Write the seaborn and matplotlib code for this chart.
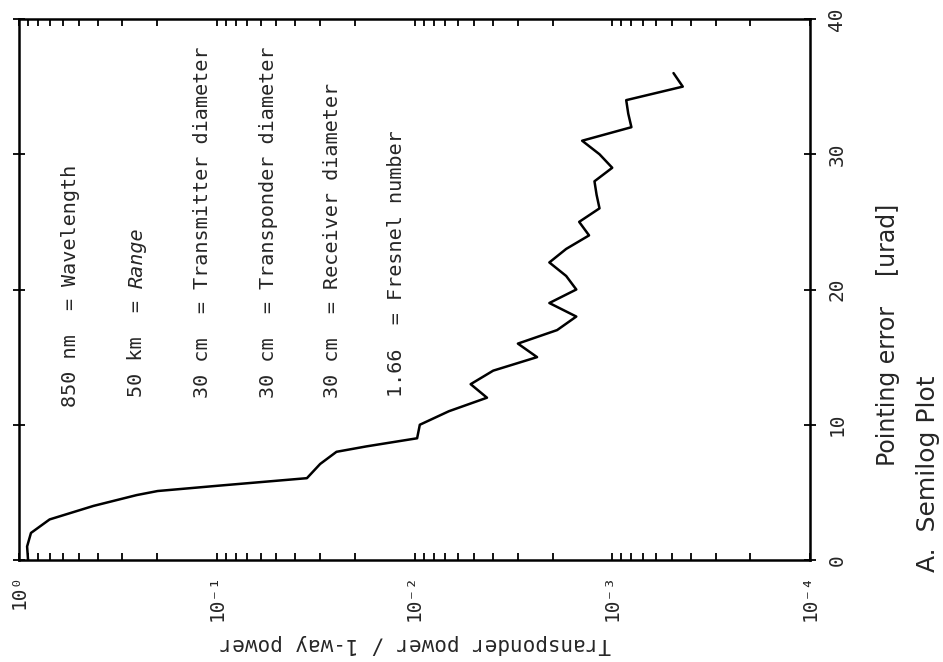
import numpy as np
import pandas as pd
import matplotlib
matplotlib.use("Agg")
import matplotlib.pyplot as plt
import seaborn as sns
from matplotlib.ticker import FixedLocator, LogLocator, NullFormatter

# ---- data ----
pointing_error_urad = [0, 1, 2, 3, 4, 4.8, 5.1, 5.5, 6.05, 7.1, 8.0, 8.4, 9.0, 10,
                       11, 12, 13, 14, 15, 16, 17, 18, 19, 20, 21, 22, 23, 24, 25,
                       26, 27, 28, 29, 30, 31, 32, 33, 34, 35, 36]
transponder_power = [0.90, 0.91, 0.87, 0.70, 0.42, 0.254, 0.199, 0.097, 0.035, 0.030,
                     0.0248, 0.0175, 0.0097, 0.0094, 0.0067, 0.0043, 0.0052, 0.0040,
                     0.0024, 0.0030, 0.0019, 0.00152, 0.00208, 0.00152, 0.00171,
                     0.00208, 0.00171, 0.00131, 0.00147, 0.00116, 0.00120, 0.00123,
                     0.00100, 0.00116, 0.00142, 0.00080, 0.00083, 0.00085, 0.00044,
                     0.00049]
power_ticks = [1, 1e-1, 1e-2, 1e-3, 1e-4]
power_tick_labels = ["10\u2070", "10\u207b\u00b9", "10\u207b\u00b2", "10\u207b\u00b3", "10\u207b\u2074"]
error_ticks = [0, 10, 20, 30, 40]
error_tick_labels = ["0", "10", "20", "30", "40"]
param_values = ["850 nm  =", "50 km  =", "30 cm  =", "30 cm  =", "30 cm  =", "1.66  ="]
param_names = ["Wavelength", "Range", "Transmitter diameter", "Transponder diameter",
               "Receiver diameter", "Fresnel number"]

sns.set_theme(style="white")
plt.rcParams["font.family"] = ["DejaVu Sans Mono", "DejaVu Sans"]

W, H = 943, 662
fig = plt.figure(figsize=(W / 100, H / 100), dpi=100)
L, R, T, B = 19, 810, 19, 560
ax = fig.add_axes([L / W, 1 - B / H, (R - L) / W, (B - T) / H])
ax.set_xscale("log")

df = pd.DataFrame({"power": transponder_power, "error": pointing_error_urad})
sns.lineplot(data=df, x="power", y="error", sort=False, estimator=None,
             color="black", linewidth=1.8, ax=ax)

ax.set_xlim(1, 1e-4)
ax.set_ylim(0, 40)
ax.set_xlabel("")
ax.set_ylabel("")

# x (power) axis
ax.xaxis.set_major_locator(FixedLocator(power_ticks))
ax.set_xticklabels(power_tick_labels, rotation=90, fontsize=14)
ax.xaxis.set_minor_locator(LogLocator(base=10, subs=np.arange(2, 10), numticks=20))
ax.xaxis.set_minor_formatter(NullFormatter())
ax.tick_params(axis="x", which="both", direction="in", top=True, bottom=True,
               length=5, width=1.3, color="black", pad=10)

# y (pointing error) axis on the right
ax.yaxis.tick_right()
ax.yaxis.set_major_locator(FixedLocator(error_ticks))
ax.set_yticklabels(error_tick_labels, rotation=90, va="center", fontsize=14)
ax.tick_params(axis="y", which="major", direction="inout", left=True, right=True,
               length=9, width=1.3, color="black", pad=8)

for s in ax.spines.values():
    s.set_visible(True)
    s.set_color("black")
    s.set_linewidth(1.8)

# labels
def px(x, y):
    return x / W, 1 - y / H

fig.text(*px(415, 644), "Transponder power / 1-way power", rotation=180,
         ha="center", va="center", fontsize=15)
fig.text(*px(888, 335), "Pointing error    [urad]", rotation=90, ha="center", va="center",
         fontsize=17, family=["DejaVu Sans"])
fig.text(*px(928, 572), "A.  Semilog Plot", rotation=90, ha="center", va="bottom",
         fontsize=18, family=["DejaVu Sans"])

# parameter annotations
xs = [70, 137, 203, 268, 333, 397]
starts = [407, 397, 398, 398, 398, 397]
cw = 12.1
for x, y0, v, n in zip(xs, starts, param_values, param_names):
    fig.text(*px(x, y0), v, rotation=90, ha="center", va="bottom", fontsize=14.5)
    y1 = y0 - cw * (len(v) + 1)
    fig.text(*px(x, y1), n, rotation=90, ha="center", va="bottom", fontsize=14.5,
             style="italic" if n == "Range" else "normal")

fig.savefig("out.png", dpi=100)
